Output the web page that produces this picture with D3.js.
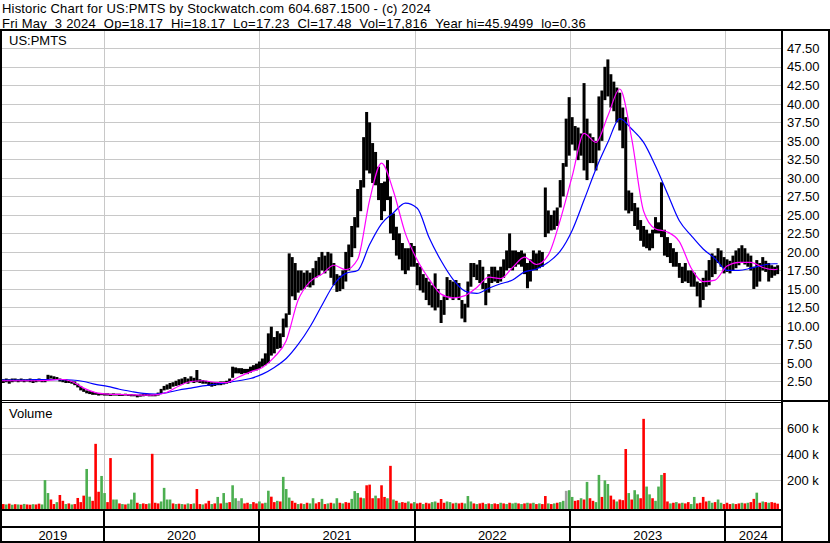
<!DOCTYPE html>
<html><head><meta charset="utf-8">
<script src="https://cdn.jsdelivr.net/npm/d3@7"></script>
<style>html,body{margin:0;padding:0;background:#fff;}svg{display:block;font-family:"Liberation Sans",Arial,sans-serif;}</style>
</head><body><svg id="c" width="830" height="543"></svg>
<script>
const titleLine1 = "Historic Chart for US:PMTS by Stockwatch.com 604.687.1500 - (c) 2024";
const titleLine2 = "Fri May  3 2024  Op=18.17  Hi=18.17  Lo=17.23  Cl=17.48  Vol=17,816  Year hi=45.9499  lo=0.36";
const symbolLabel = "US:PMTS";
const volumeLabel = "Volume";
const firstWeek = "2019-05-03";
const priceTicks = [2.5,5,7.5,10,12.5,15,17.5,20,22.5,25,27.5,30,32.5,35,37.5,40,42.5,45,47.5];
const volumeTicks = [200,400,600];
const yearLabels = [2019,2020,2021,2022,2023,2024];

// weekly high / low
const weeklyHigh = [
2.9,2.8,2.9,2.8,2.9,2.9,2.8,2.9,2.8,2.8,2.9,2.8,2.8,2.9,2.8,2.8,
3.4,3.3,3.2,3.1,2.9,2.8,2.8,2.7,2.6,2.5,2.2,1.9,1.6,1.3,1.2,1.1,1.0,0.95,0.95,0.9,
0.9,0.85,0.9,0.85,0.85,0.8,0.85,0.8,0.8,0.75,0.7,0.75,0.8,0.85,0.8,0.75,0.8,
1.0,1.5,1.9,2.1,2.3,2.4,2.6,2.8,2.9,3.1,2.9,3.2,3.0,4.05,2.8,2.7,2.6,2.5,2.4,2.4,2.4,2.5,2.5,2.6,2.9,
4.5,4.4,4.3,4.3,4.2,4.2,4.5,4.7,4.9,5.2,5.6,6.3,9.0,9.9,8.5,9.3,9.0,11.0,11.7,
19.8,19.3,18.5,17.5,17.5,17.2,17.5,17.2,17.8,18.8,19.3,20.0,19.5,20.0,19.8,18.5,17.0,16.8,17.5,20.0,21.0,23.5,24.7,28.5,29.7,
35.5,38.9,37.5,34.7,33.5,31.5,29.3,29.5,32.4,27.5,25.2,23.4,22.5,21.2,20.5,20.5,21.2,20.8,18.5,18.0,17.0,16.5,16.0,15.5,17.1,15.0,
13.5,14.0,16.6,16.2,16.0,16.2,15.8,13.5,13.0,16.0,18.5,18.5,18.3,18.9,18.0,15.8,17.0,18.0,18.0,17.5,18.0,19.0,20.2,22.5,20.2,20.2,20.0,20.2,19.8,18.5,19.0,20.2,19.8,20.2,20.0,
28.7,25.6,25.0,25.6,26.0,29.7,32.0,38.0,40.9,38.2,37.0,36.8,36.0,42.8,38.0,36.0,35.5,35.0,41.0,41.8,45.0,46.0,44.0,43.0,42.2,41.5,39.5,38.2,
28.3,28.0,26.6,26.0,24.3,23.5,23.0,22.5,23.0,24.7,24.0,29.4,23.0,22.0,21.2,20.5,20.0,18.5,18.0,18.5,17.5,17.5,17.2,16.0,15.8,16.5,17.5,18.9,19.8,19.5,
20.5,20.2,19.3,19.0,18.8,19.5,20.2,20.5,20.9,20.5,19.8,19.5,18.0,18.9,18.5,19.3,18.8,18.5,18.2,18.0,18.2];
const weeklyLow = [
2.4,2.3,2.4,2.2,2.4,2.5,2.4,2.5,2.4,2.5,2.4,2.3,2.4,2.5,2.4,2.4,
2.8,2.9,2.8,2.7,2.5,2.4,2.3,2.3,2.2,2.0,1.7,1.3,1.1,0.9,0.8,0.7,0.7,0.6,0.65,0.6,
0.6,0.55,0.6,0.6,0.55,0.55,0.6,0.55,0.5,0.5,0.36,0.45,0.5,0.55,0.5,0.5,0.5,
0.6,0.9,1.3,1.4,1.5,1.8,1.9,2.0,2.1,2.3,2.2,2.4,2.3,2.4,2.3,2.2,2.2,1.9,1.8,1.9,2.0,2.0,2.1,2.2,2.3,
3.0,3.6,3.6,3.5,3.6,3.5,3.7,3.9,4.0,4.2,4.5,4.7,5.0,6.0,6.3,6.9,7.0,8.5,9.8,
11.5,14.0,13.5,14.5,14.8,15.0,15.3,15.2,15.5,16.5,16.8,17.5,17.1,17.5,16.5,15.5,14.6,14.7,15.0,16.0,17.5,19.3,20.5,23.3,25.5,
28.7,31.0,30.6,29.3,29.0,27.0,24.3,25.5,27.0,22.5,21.6,19.5,19.0,17.5,17.0,17.5,18.0,18.0,15.5,14.8,14.5,13.5,12.8,12.5,12.1,12.5,
10.4,11.5,13.5,13.8,13.5,13.8,13.5,11.0,10.5,12.5,15.3,16.6,16.2,15.8,15.0,12.8,14.5,15.8,16.0,15.8,16.0,16.5,17.5,17.8,17.5,18.0,18.3,18.0,17.0,15.1,16.0,17.5,17.5,17.8,18.0,
22.0,22.5,22.9,23.0,23.5,26.0,27.5,31.5,33.0,34.5,33.7,32.4,33.0,31.0,29.7,32.0,32.0,31.0,33.7,35.0,40.5,41.0,39.5,39.0,37.5,36.4,34.0,25.6,
25.2,25.5,23.5,23.0,21.5,20.7,20.5,20.2,20.5,22.5,22.5,22.0,19.5,19.3,18.5,18.0,18.0,16.5,15.8,16.0,15.8,15.3,15.3,14.0,12.5,13.5,15.3,15.5,16.6,17.0,
18.5,18.0,17.1,17.3,17.1,17.5,17.8,18.2,18.5,18.3,18.0,17.5,15.0,15.3,16.0,17.5,17.3,16.0,16.5,16.8,17.0];

// weekly volume in thousands, and direction (1 up, -1 down, 0 unchanged)
const weeklyVolume = [
35,15,12,18,10,14,12,10,16,12,10,14,12,18,12,
200,100,50,15,30,85,40,15,20,12,15,62,30,80,286,72,40,480,110,232,100,
30,370,50,50,20,15,12,18,50,103,25,15,20,15,20,403,25,
20,35,140,50,50,20,15,18,15,12,20,15,20,131,15,12,20,40,15,20,70,20,100,25,30,
160,60,40,60,20,25,15,30,20,35,20,25,118,72,30,40,35,225,131,
65,40,25,15,20,15,25,20,60,20,30,55,15,20,25,20,60,25,20,30,25,55,115,100,65,
60,160,165,60,80,60,160,70,60,310,50,40,25,30,25,35,20,30,20,25,15,25,20,30,35,25,
54,25,35,30,20,25,20,25,20,77,35,20,15,20,25,15,20,15,20,15,25,20,15,25,20,25,20,15,20,25,20,25,15,20,15,
77,20,15,20,25,30,40,117,122,70,40,45,60,50,186,60,40,30,240,70,198,170,80,50,35,50,45,440,
100,50,122,90,60,673,150,90,60,40,150,240,255,35,20,25,30,20,25,20,30,15,70,20,25,70,35,40,25,30,
50,25,15,25,15,20,15,20,25,20,25,30,55,103,25,35,30,25,30,25,18];
const weeklyDir = [
1,-1,1,-1,1,-1,1,-1,1,-1,-1,1,-1,-1,1,
1,1,-1,-1,1,-1,-1,1,-1,1,-1,-1,-1,-1,1,1,-1,-1,-1,1,1,
-1,-1,1,1,-1,1,-1,1,1,1,-1,1,-1,-1,1,-1,-1,
-1,1,1,1,1,-1,1,-1,1,-1,1,-1,1,-1,-1,1,-1,-1,1,-1,1,-1,1,1,-1,
1,1,0,1,-1,-1,1,-1,-1,1,-1,1,1,-1,-1,1,-1,1,1,
1,-1,-1,1,-1,1,-1,1,1,-1,-1,1,-1,1,-1,1,1,-1,1,-1,-1,1,1,1,-1,
1,-1,-1,-1,1,-1,-1,-1,1,-1,1,-1,1,-1,-1,1,-1,1,-1,-1,1,-1,-1,1,1,-1,
-1,-1,1,1,-1,1,-1,-1,1,1,1,-1,1,-1,-1,1,-1,1,-1,-1,1,-1,1,-1,1,1,-1,1,-1,1,-1,1,-1,1,-1,
-1,1,-1,1,-1,1,1,0,1,1,-1,-1,1,-1,1,-1,-1,1,1,-1,1,1,-1,-1,1,-1,-1,-1,
1,-1,1,1,-1,-1,1,1,-1,1,1,1,-1,-1,1,-1,1,-1,1,-1,-1,1,1,-1,-1,-1,-1,1,1,-1,
1,1,-1,-1,-1,1,-1,-1,1,-1,1,-1,-1,1,-1,1,-1,1,-1,-1,-1];

// moving averages read every 4 weeks (last point = final day)
const maShort = [2.6,2.6,2.6,2.6,2.65,2.8,2.5,1.6,1.0,0.8,0.75,0.7,0.65,0.7,1.05,1.9,2.5,2.6,2.4,2.35,
3.1,3.8,4.4,5.8,8.0,13.5,16.0,17.0,18.2,17.6,19.0,27.0,32.0,28.2,22.5,18.9,16.3,14.3,13.8,14.1,
15.2,16.6,16.4,17.9,19.3,18.3,19.6,24.3,30.2,36.0,34.8,38.4,42.0,35.3,25.5,23.1,22.7,21.4,17.8,16.0,
16.2,18.1,18.6,18.6,17.9,17.6,17.7];
const maLong = [2.7,2.7,2.7,2.75,2.75,2.75,2.7,2.5,2.1,1.85,1.45,1.15,0.9,0.8,1.0,1.35,1.6,1.9,2.1,2.35,
2.6,2.9,3.5,4.4,5.6,7.5,9.9,12.8,15.6,17.1,17.5,21.0,23.8,25.3,26.6,25.9,21.9,18.8,16.3,14.7,
14.4,15.1,15.7,16.2,17.3,17.7,18.6,20.1,22.9,27.0,31.2,34.8,38.0,36.6,34.8,31.6,27.9,24.2,22.2,20.4,
19.1,17.5,17.5,17.8,18.2,18.4,18.4];

const start = d3.timeParse("%Y-%m-%d")(firstWeek);
const lastDay = d3.timeDay.offset(start, 1827);
const weekDates = weeklyHigh.map((_, i) => d3.timeDay.offset(start, 7 * i));
const maDates = maShort.map((_, k) => k < maShort.length - 1 ? d3.timeDay.offset(start, 28 * k) : lastDay);
const bars = weekDates.map((d, i) => ({date: d, hi: weeklyHigh[i], lo: weeklyLow[i], vol: weeklyVolume[i], dir: weeklyDir[i]}));

const svg = d3.select("#c");
const x = d3.scaleTime().domain([new Date(2020,0,1), new Date(2024,0,1)]).range([103.7, 725.3]);
const yP = d3.scaleLinear().domain([0, 47.5]).range([400, 48.3]);
const yV = d3.scaleLinear().domain([0, 600]).range([506, 428.3]);
const plotL = 2, plotR = 781;
const grid = "#c8c8c8";
const yearStarts = yearLabels.slice(1).map(y => new Date(y,0,1));

svg.append("rect").attr("width",830).attr("height",543).attr("fill","#fff");

const defs = svg.append("defs");
defs.append("clipPath").attr("id","cp").append("rect").attr("x",plotL).attr("y",31).attr("width",plotR-plotL).attr("height",369);
defs.append("clipPath").attr("id","cv").append("rect").attr("x",plotL).attr("y",403).attr("width",plotR-plotL).attr("height",106);

// price gridlines
const gP = svg.append("g");
gP.selectAll("line.h").data(priceTicks).join("line")
  .attr("x1",plotL).attr("x2",plotR)
  .attr("y1",d=>Math.round(yP(d))+0.5).attr("y2",d=>Math.round(yP(d))+0.5)
  .attr("stroke",grid).attr("stroke-width",1);
gP.selectAll("line.v").data(yearStarts).join("line")
  .attr("x1",d=>Math.round(x(d))+0.5).attr("x2",d=>Math.round(x(d))+0.5)
  .attr("y1",31).attr("y2",400).attr("stroke",grid).attr("stroke-width",1);

// volume gridlines
const gV = svg.append("g");
gV.selectAll("line.h").data(volumeTicks).join("line")
  .attr("x1",plotL).attr("x2",plotR)
  .attr("y1",d=>Math.round(yV(d))+0.5).attr("y2",d=>Math.round(yV(d))+0.5)
  .attr("stroke",grid);
gV.selectAll("line.v").data(yearStarts).join("line")
  .attr("x1",d=>Math.round(x(d))+0.5).attr("x2",d=>Math.round(x(d))+0.5)
  .attr("y1",403).attr("y2",509).attr("stroke",grid);

// price bars
const bw = 3;
svg.append("g").attr("clip-path","url(#cp)").selectAll("rect").data(bars).join("rect")
  .attr("x",d=>x(d.date)-bw/2).attr("width",bw)
  .attr("y",d=>yP(d.hi)).attr("height",d=>Math.max(1,yP(d.lo)-yP(d.hi)))
  .attr("fill","#000");

// moving averages
const line = d3.line().x(d=>x(d[0])).y(d=>yP(d[1])).curve(d3.curveMonotoneX);
const gMA = svg.append("g").attr("clip-path","url(#cp)");
gMA.append("path").datum(maDates.map((d,k)=>[d,maLong[k]])).attr("d",line)
  .attr("fill","none").attr("stroke","#0000ff").attr("stroke-width",1.2);
gMA.append("path").datum(maDates.map((d,k)=>[d,maShort[k]])).attr("d",line)
  .attr("fill","none").attr("stroke","#ff00ff").attr("stroke-width",1.2);

// volume bars
const vbw = 2.6;
const vColor = d => d.dir > 0 ? "#4caf50" : (d.dir < 0 ? "#ff0000" : "#a0a0a0");
svg.append("g").attr("clip-path","url(#cv)").selectAll("rect").data(bars).join("rect")
  .attr("x",d=>x(d.date)-vbw/2).attr("width",vbw)
  .attr("y",d=>yV(d.vol)).attr("height",d=>509-yV(d.vol))
  .attr("fill",vColor);

// frame
const blk = (xx,yy,w,h)=>svg.append("rect").attr("x",xx).attr("y",yy).attr("width",w).attr("height",h).attr("fill","#000");
blk(0,29,830,2);
blk(0,29,2,514);
blk(828,29,2,514);
blk(0,541,830,2);
blk(781,29,2,514);
blk(0,400,781,1);
blk(0,402,781,1);
blk(781,400,49,2);
blk(0,509,781,2);
blk(0,526,781,2);
yearStarts.forEach(d=>blk(Math.round(x(d))-1,509,2,33));

// text
const nb = s => s.replace(/ /g, "\u00a0");
const txt = (s,xx,yy,size)=>svg.append("text").attr("x",xx).attr("y",yy)
  .attr("font-size",size||13).attr("fill","#000").text(nb(s));
function fitWidth(sel, target) {
  const n = sel.text().length;
  const w = sel.node().getComputedTextLength();
  sel.attr("letter-spacing", ((target - w) / n).toFixed(3));
}
fitWidth(txt(titleLine1,2,13), 429);
fitWidth(txt(titleLine2,2,28), 584);
txt(symbolLabel,9,45);
txt(volumeLabel,9,418);

svg.append("g").selectAll("text").data(priceTicks).join("text")
  .attr("x",787).attr("y",d=>yP(d)).attr("dy","0.36em").attr("font-size",13).attr("fill","#000")
  .text(d=>d3.format(".2f")(d));
svg.append("g").selectAll("text").data(volumeTicks).join("text")
  .attr("x",787).attr("y",d=>yV(d)).attr("dy","0.36em").attr("font-size",13).attr("fill","#000")
  .text(d=>nb(d+" k"));

const bounds = [plotL, ...yearStarts.map(d=>x(d)), plotR];
svg.append("g").selectAll("text").data(yearLabels).join("text")
  .attr("x",(d,i)=>(bounds[i]+bounds[i+1])/2).attr("y",540)
  .attr("text-anchor","middle").attr("font-size",13).attr("fill","#000")
  .text(d=>d);
</script></body></html>
